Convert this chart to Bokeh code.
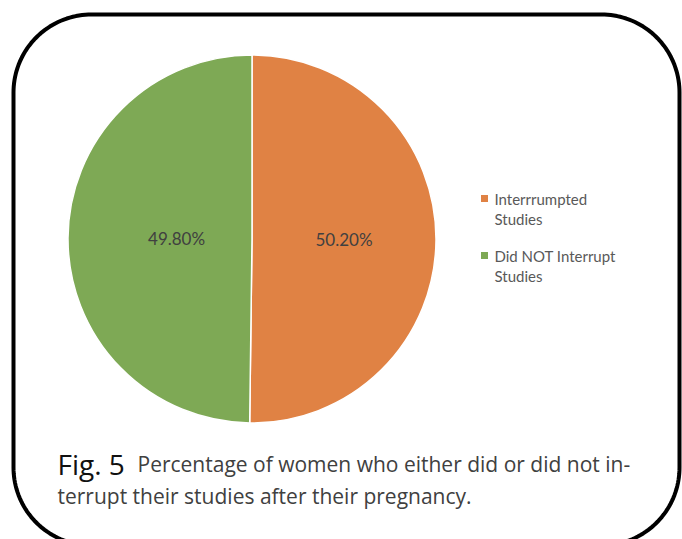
import numpy as np
from bokeh.plotting import figure
from bokeh.models import ColumnDataSource, Range1d
from bokeh.core.properties import value
from bokeh.embed import file_html
from bokeh.resources import INLINE

# ---- data -------------------------------------------------------------
categories = ["Interrrumpted Studies", "Did NOT Interrupt Studies"]
legend_labels = ["Interrrumpted\nStudies", "Did NOT Interrupt\nStudies"]
shares = [50.20, 49.80]                      # percent
colors = ["#E08244", "#7EA955"]
label_radius = [0.50, 0.41]                  # label distance as a fraction of the pie radius

caption_head = "Fig. 5"
caption_lines = ["Percentage of women who either did or did not in-",
                 "terrupt their studies after their pregnancy."]

W, H = 682, 539

p = figure(width=W, height=H, output_backend="svg", toolbar_location=None,
           x_range=Range1d(0, W), y_range=Range1d(0, H), min_border=0,
           outline_line_color=None, background_fill_color="white",
           border_fill_color="white")
p.axis.visible = False
p.grid.visible = False

# ---- rounded frame ----------------------------------------------------
def rounded_path(x0, y0, x1, y1, r, n=40):
    xs, ys = [], []
    corners = [(x1 - r, y1 - r, 0.0), (x0 + r, y1 - r, np.pi / 2),
               (x0 + r, y0 + r, np.pi), (x1 - r, y0 + r, 1.5 * np.pi)]
    for cx, cy, a0 in corners:
        t = np.linspace(a0, a0 + np.pi / 2, n)
        xs.extend(cx + r * np.cos(t))
        ys.extend(cy + r * np.sin(t))
    xs.append(xs[0]); ys.append(ys[0])
    return xs, ys

fx, fy = rounded_path(13, H - 545, 679, H - 14, 78)
p.line(fx, fy, line_color="black", line_width=4)

# ---- pie ---------------------------------------------------------------
cx, cy, R = 251.5, H - 238.5, 184
frac = np.array(shares) / sum(shares)
ends = np.pi / 2 - 2 * np.pi * np.cumsum(frac)
starts = np.concatenate([[np.pi / 2], ends[:-1]])
mids = (starts + ends) / 2

src = ColumnDataSource(dict(start=starts, end=ends, color=colors))
p.wedge(x=cx, y=cy, radius=R, start_angle="start", end_angle="end",
        direction="clock", fill_color="color", line_color="white",
        line_width=1.5, source=src)

lab = ColumnDataSource(dict(
    x=cx + np.array(label_radius) * R * np.cos(mids),
    y=cy + np.array(label_radius) * R * np.sin(mids),
    t=[f"{v:.2f}%" for v in shares]))
p.text(x="x", y="y", text="t", source=lab, text_align="center",
       text_baseline="middle", text_font=value("Lato"),
       text_font_size="17px", text_color="#404040")

# ---- legend ------------------------------------------------------------
leg_x, leg_y0, leg_step = 484, H - 198, 57
ly = [leg_y0 - i * leg_step for i in range(len(categories))]
p.scatter(x=[leg_x] * len(ly), y=ly, marker="square", size=7,
          fill_color=colors, line_color=None)
p.text(x=[leg_x + 10] * len(ly), y=[v + 9 for v in ly], text=legend_labels,
       text_align="left", text_baseline="top", text_font=value("Lato"),
       text_font_size="15px", text_color="#595959", text_line_height=1.14)

# ---- caption -----------------------------------------------------------
p.text(x=[57], y=[H - 463], text=[caption_head], text_align="left",
       text_baseline="alphabetic", text_font=value("Open Sans"),
       text_font_size="28px", text_color="#111111")
p.text(x=[137, 57], y=[H - 463, H - 495], text=caption_lines,
       text_align="left", text_baseline="alphabetic",
       text_font=value("Open Sans"), text_font_size="21px",
       text_color="#404040")

open("out.html", "w").write(file_html(p, INLINE))
